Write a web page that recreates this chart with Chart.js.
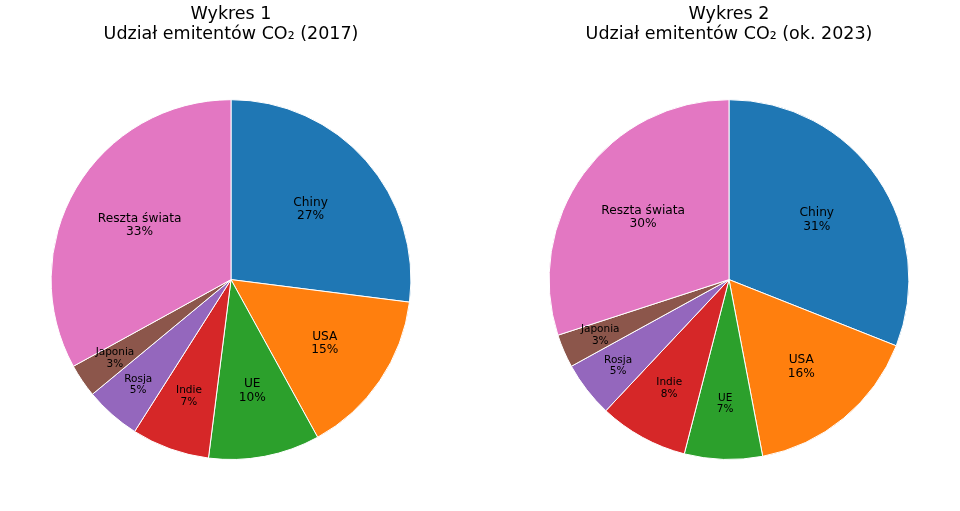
<!DOCTYPE html>
<html>
<head>
<meta charset="utf-8">
<script src="https://cdn.jsdelivr.net/npm/chart.js@4.4.1/dist/chart.umd.min.js"></script>
<style>
  html, body { margin: 0; padding: 0; background: #fff; }
  .box { position: absolute; top: 0; width: 462px; height: 511px; }
</style>
</head>
<body>
<div class="box" style="left:0"><canvas id="pie1" width="462" height="511"></canvas></div>
<div class="box" style="left:498px"><canvas id="pie2" width="462" height="511"></canvas></div>
<script>
const categories = ["Chiny", "USA", "UE", "Indie", "Rosja", "Japonia", "Reszta świata"];
const shares2017 = [27, 15, 10, 7, 5, 3, 33];
const shares2023 = [31, 16, 7, 8, 5, 3, 30];
const colors = ["#1f77b4", "#ff7f0e", "#2ca02c", "#d62728", "#9467bd", "#8c564b", "#e377c2"];

const FONT = "'DejaVu Sans', sans-serif";

// labels inside slices, small slices get pushed outward and a smaller font
const sliceLabels = {
    id: 'sliceLabels',
    afterDatasetsDraw(chart) {
        const ctx = chart.ctx;
        const meta = chart.getDatasetMeta(0);
        const vals = chart.data.datasets[0].data;
        const total = vals.reduce((a, b) => a + b, 0);
        meta.data.forEach((arc, i) => {
            const pct = vals[i] / total * 100;
            const mid = (arc.startAngle + arc.endAngle) / 2;
            let f = 0.59;
            if (pct <= 5) f = 0.78;
            else if (pct < 9) f = 0.69;
            else if (pct < 20) f = 0.63;
            const r = arc.outerRadius * f;
            const x = arc.x + Math.cos(mid) * r;
            const y = arc.y + Math.sin(mid) * r;
            const small = pct < 10;
            const size = small ? 10.5 : 12.2;
            const gap = small ? 11.5 : 13.5;
            ctx.save();
            ctx.fillStyle = '#000';
            ctx.font = size + 'px ' + FONT;
            ctx.textAlign = 'center';
            ctx.textBaseline = 'middle';
            ctx.fillText(chart.data.labels[i], x, y - gap / 2);
            ctx.fillText(Math.round(pct) + '%', x, y + gap / 2);
            ctx.restore();
        });
    }
};

function makePie(id, values, titleLines) {
    new Chart(document.getElementById(id), {
        type: 'pie',
        data: {
            labels: categories,
            datasets: [{
                data: values,
                backgroundColor: colors,
                borderColor: '#ffffff',
                borderWidth: 1
            }]
        },
        options: {
            responsive: false,
            animation: false,
            layout: { padding: { top: 0, bottom: 51, left: 0, right: 0 } },
            plugins: {
                legend: { display: false },
                tooltip: { enabled: false },
                title: {
                    display: true,
                    text: titleLines,
                    color: '#000',
                    font: { family: FONT, size: 17.5, weight: 'normal', lineHeight: 1.12 },
                    padding: { top: 5, bottom: 55 }
                }
            }
        },
        plugins: [sliceLabels]
    });
}

makePie('pie1', shares2017, ["Wykres 1", "Udział emitentów CO₂ (2017)"]);
makePie('pie2', shares2023, ["Wykres 2", "Udział emitentów CO₂ (ok. 2023)"]);
</script>
</body>
</html>
